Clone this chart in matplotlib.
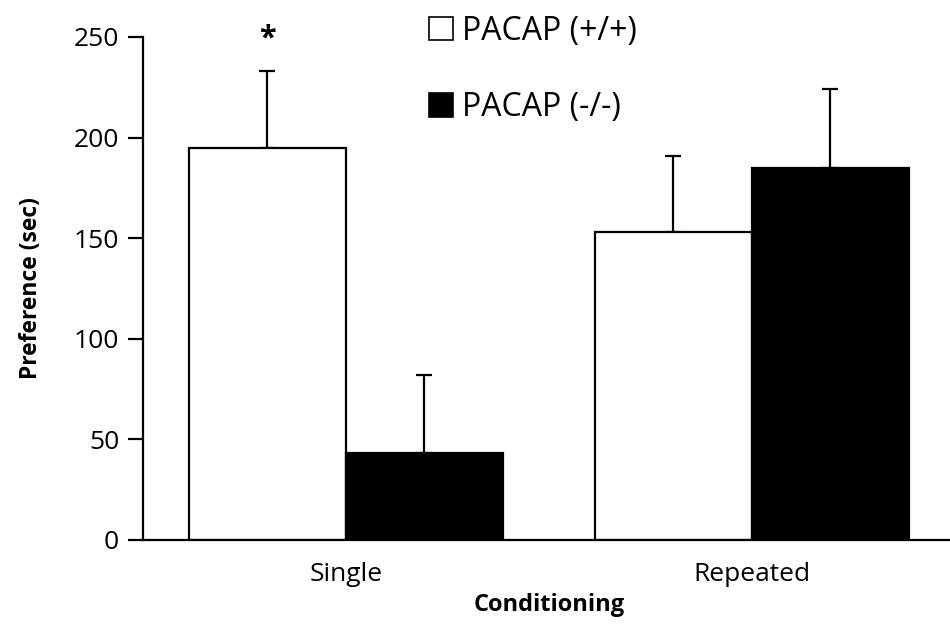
import matplotlib
matplotlib.use('Agg')
import matplotlib.pyplot as plt
import numpy as np
from matplotlib.patches import Patch

plt.rcParams['font.family'] = ['Open Sans', 'DejaVu Sans']

conditions = ['Single', 'Repeated']
groups = ['PACAP (+/+)', 'PACAP (-/-)']
wt_mean = [195, 153]
ko_mean = [43, 185]
wt_sem = [38, 38]
ko_sem = [39, 39]

BAR_W = 0.386
LW = 1.6

fig = plt.figure(figsize=(9.5, 6.29), dpi=100)
ax = fig.add_axes([0.1502, 0.1415, 0.855, 0.7997])

x = np.arange(len(conditions))
ax.bar(x - BAR_W/2, wt_mean, BAR_W, color='white', edgecolor='black',
       linewidth=LW, zorder=2)
ax.bar(x + BAR_W/2, ko_mean, BAR_W, color='black', edgecolor='black',
       linewidth=LW, zorder=2)

# upper error bars only
ax.errorbar(x - BAR_W/2, wt_mean, yerr=[np.zeros(2), wt_sem], fmt='none',
            ecolor='black', elinewidth=LW, capsize=6, capthick=LW, zorder=1)
ax.errorbar(x + BAR_W/2, ko_mean, yerr=[np.zeros(2), ko_sem], fmt='none',
            ecolor='black', elinewidth=LW, capsize=6, capthick=LW, zorder=1)

# significance mark
ax.text(x[0] - BAR_W/2, 249, '*', ha='center', va='center',
        fontsize=22, fontweight='bold', clip_on=False)

ax.set_xlim(-0.5, 1.5)
ax.set_ylim(0, 250)
ax.set_yticks([0, 50, 100, 150, 200, 250])
ax.set_xticks(x)
ax.set_xticklabels(conditions)
ax.tick_params(axis='y', direction='out', length=11, width=LW, labelsize=19, pad=6)
ax.tick_params(axis='x', length=0, labelsize=19, pad=16)
for s in ['top', 'right']:
    ax.spines[s].set_visible(False)
for s in ['left', 'bottom']:
    ax.spines[s].set_linewidth(LW)

ax.set_ylabel('Preference (sec)', fontsize=16.5, fontweight='bold', labelpad=22)
ax.set_xlabel('Conditioning', fontsize=17, fontweight='bold', labelpad=4)

handles = [Patch(facecolor='white', edgecolor='black', linewidth=1.2),
           Patch(facecolor='black', edgecolor='black', linewidth=1.2)]
fig.legend(handles, groups, loc='upper left', bbox_to_anchor=(0.421, 1.022),
           frameon=False, fontsize=23, handlelength=0.75, handleheight=0.75,
           handletextpad=0.3, labelspacing=1.35)

fig.savefig('out.png', dpi=100)
